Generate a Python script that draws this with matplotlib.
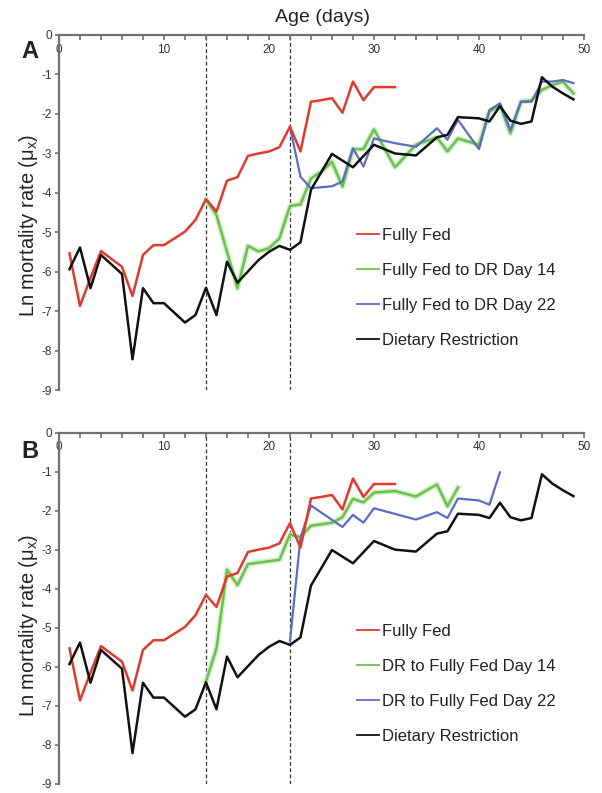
import matplotlib
matplotlib.use("Agg")
import matplotlib.pyplot as plt
import matplotlib.patheffects as pe
from matplotlib.ticker import MultipleLocator

plt.rcParams['font.family'] = ['Liberation Sans', 'DejaVu Sans']
plt.rcParams['axes.unicode_minus'] = False
plt.rcParams['mathtext.fontset'] = 'custom'
plt.rcParams['mathtext.rm'] = 'Liberation Sans'

# ---------------- data ----------------
ff_days = list(range(1, 33))
ff_vals = [-5.53, -6.86, -6.15, -5.47, -5.67, -5.87, -6.61, -5.57, -5.32, -5.32,
           -5.15, -4.98, -4.68, -4.16, -4.47, -3.69, -3.60, -3.06, -3.00, -2.95,
           -2.84, -2.32, -2.95, -1.69, -1.65, -1.60, -1.97, -1.18, -1.65, -1.32,
           -1.32, -1.32]

dr_days = [1, 2, 3, 4, 6, 7, 8, 9, 10, 12, 13, 14, 15, 16, 17, 19, 20, 21, 22, 23,
           24, 26, 28, 30, 32, 34, 36, 37, 38, 40, 41, 42, 43, 44, 45, 46, 47, 48, 49]
dr_vals = [-5.93, -5.38, -6.41, -5.57, -6.05, -8.21, -6.41, -6.79, -6.79, -7.28,
           -7.09, -6.40, -7.09, -5.74, -6.27, -5.70, -5.49, -5.34, -5.44, -5.25,
           -3.92, -3.01, -3.35, -2.78, -3.00, -3.05, -2.59, -2.53, -2.08, -2.11,
           -2.19, -1.80, -2.17, -2.25, -2.19, -1.07, -1.31, -1.48, -1.63]

ffdr14_days = [14, 15, 17, 18, 19, 20, 21, 22, 23, 24, 25, 26, 27, 28, 29, 30, 32,
               34, 36, 37, 38, 40, 41, 42, 43, 44, 45, 46, 47, 48, 49]
ffdr14_vals = [-4.16, -4.56, -6.41, -5.34, -5.48, -5.40, -5.15, -4.33, -4.29, -3.63,
               -3.46, -3.21, -3.84, -2.89, -2.89, -2.39, -3.35, -2.78, -2.59, -2.95,
               -2.62, -2.78, -1.94, -1.78, -2.49, -1.69, -1.66, -1.39, -1.27, -1.18,
               -1.48]

ffdr22_days = [22, 23, 24, 26, 27, 28, 29, 30, 32, 34, 36, 37, 38, 40, 41, 42, 43,
               44, 45, 46, 47, 48, 49]
ffdr22_vals = [-2.32, -3.59, -3.88, -3.83, -3.71, -2.87, -3.33, -2.62, -2.74, -2.83,
               -2.36, -2.65, -2.15, -2.89, -1.90, -1.73, -2.41, -1.69, -1.69, -1.18,
               -1.18, -1.14, -1.22]

drff14_days = [14, 15, 16, 17, 18, 21, 22, 23, 24, 26, 27, 28, 29, 30, 32, 34, 36, 37, 38]
drff14_vals = [-6.38, -5.53, -3.51, -3.91, -3.37, -3.26, -2.61, -2.68, -2.39, -2.31,
               -2.17, -1.70, -1.79, -1.54, -1.50, -1.64, -1.33, -1.89, -1.41]

drff22_days = [22, 23, 24, 27, 28, 29, 30, 34, 36, 37, 38, 40, 41, 42]
drff22_vals = [-5.35, -2.70, -1.87, -2.42, -2.11, -2.31, -1.94, -2.23, -2.04, -2.19,
               -1.69, -1.74, -1.85, -1.02]

switch_days = [14, 22]
x_ticks = [0, 10, 20, 30, 40, 50]
y_ticks = [0, -1, -2, -3, -4, -5, -6, -7, -8, -9]

labels_A = ["Fully Fed", "Fully Fed to DR Day 14", "Fully Fed to DR Day 22", "Dietary Restriction"]
labels_B = ["Fully Fed", "DR to Fully Fed Day 14", "DR to Fully Fed Day 22", "Dietary Restriction"]

RED = "#e03a2c"
GREEN = "#6cc04f"
BLUE = "#5b6cc4"
BLACK = "#111111"
AXC = "#707070"
TXC = "#333333"

fig = plt.figure(figsize=(6.02, 7.93), dpi=100)

def setup(ax):
    ax.set_xlim(0, 50)
    ax.set_ylim(-9, 0)
    for s in ['right', 'bottom']:
        ax.spines[s].set_visible(False)
    for s in ['left', 'top']:
        ax.spines[s].set_color(AXC)
        ax.spines[s].set_linewidth(1.6)
    ax.xaxis.tick_top()
    ax.set_xticks(x_ticks)
    ax.xaxis.set_minor_locator(MultipleLocator(2))
    ax.tick_params(axis='x', which='both', direction='in', length=3.5, width=1.2,
                   color=AXC, labelsize=8.5, labelcolor=TXC, pad=-15)
    ax.set_yticks(y_ticks)
    ax.set_yticklabels([str(v) for v in y_ticks])
    ax.tick_params(axis='y', direction='out', length=3, width=1.2, color=AXC,
                   labelsize=8.5, labelcolor=TXC, pad=2)
    for d in switch_days:
        ax.axvline(d, color="#333333", lw=0.9, ls=(0, (3, 2)), zorder=1)

glow = [pe.Stroke(linewidth=4.0, foreground="#c8ecbc", alpha=0.8), pe.Normal()]

def style_legend(leg):
    for t in leg.get_texts():
        t.set_color("#222222")
    for h in leg.legend_handles:
        h.set_linewidth(1.3)
        h.set_path_effects([])

# ---------- Panel A ----------
axA = fig.add_axes([0.098, 0.5076, 0.872, 0.4483])
setup(axA)
axA.plot(ff_days, ff_vals, color=RED, lw=1.8, label=labels_A[0], zorder=4)
axA.plot(ffdr14_days, ffdr14_vals, color=GREEN, lw=1.8, label=labels_A[1], zorder=3,
         path_effects=glow)
axA.plot(ffdr22_days, ffdr22_vals, color=BLUE, lw=1.6, label=labels_A[2], zorder=3)
axA.plot(dr_days, dr_vals, color=BLACK, lw=1.8, label=labels_A[3], zorder=5)
legA = axA.legend(loc='upper left', bbox_to_anchor=(0.593, 1 - 228 / 793),
                  bbox_transform=fig.transFigure, frameon=False, fontsize=12,
                  handlelength=1.35, handletextpad=0.15, labelspacing=1.2,
                  borderpad=0, borderaxespad=0)
style_legend(legA)

# ---------- Panel B ----------
axB = fig.add_axes([0.098, 0.0115, 0.872, 0.4431])
setup(axB)
axB.plot(ff_days, ff_vals, color=RED, lw=1.8, label=labels_B[0], zorder=4)
axB.plot(drff14_days, drff14_vals, color=GREEN, lw=1.8, label=labels_B[1], zorder=3,
         path_effects=glow)
axB.plot(drff22_days, drff22_vals, color=BLUE, lw=1.6, label=labels_B[2], zorder=3)
axB.plot(dr_days, dr_vals, color=BLACK, lw=1.8, label=labels_B[3], zorder=5)
legB = axB.legend(loc='upper left', bbox_to_anchor=(0.593, 1 - 624 / 793),
                  bbox_transform=fig.transFigure, frameon=False, fontsize=12,
                  handlelength=1.35, handletextpad=0.15, labelspacing=1.2,
                  borderpad=0, borderaxespad=0)
style_legend(legB)

# ---------- labels ----------
fig.text(0.535, 1 - 18 / 793, "Age (days)", ha='center', va='center', fontsize=14,
         color="#222222")
fig.text(0.05, 1 - 52 / 793, "A", ha='center', va='center', fontsize=17,
         fontweight='bold', color="#222222")
fig.text(0.05, 1 - 452 / 793, "B", ha='center', va='center', fontsize=17,
         fontweight='bold', color="#222222")
ylab = r"Ln mortality rate (μ$\mathregular{_x}$)"
fig.text(0.047, 1 - 225 / 793, ylab, rotation=90,
         ha='center', va='center', fontsize=14.5, color="#222222")
fig.text(0.047, 1 - 625 / 793, ylab, rotation=90,
         ha='center', va='center', fontsize=14.5, color="#222222")

fig.savefig("out.png", dpi=100)
